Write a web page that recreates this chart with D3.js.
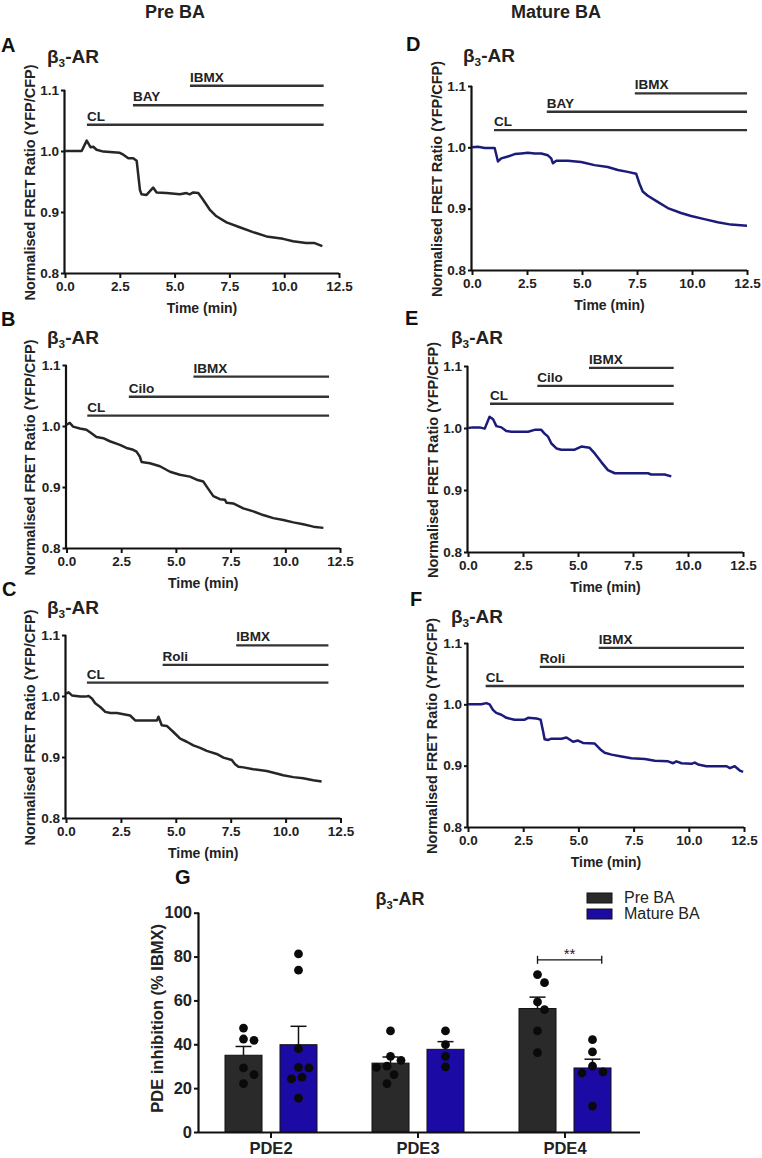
<!DOCTYPE html>
<html><head><meta charset="utf-8">
<script src="https://cdn.jsdelivr.net/npm/d3@7"></script>
<style>
body{margin:0;background:#fff}
svg{display:block}
text{font-family:"Liberation Sans",Arial,sans-serif}
</style>
</head><body>
<svg id="chart" width="762" height="1158"></svg>
<script>
// ---------------- DATA ----------------
const timeTicks = [0, 2.5, 5, 7.5, 10, 12.5];
const ratioTicks = [0.8, 0.9, 1.0, 1.1];
const columnHeaders = ["Pre BA", "Mature BA"];

const traceA = [[0,1.0],[0.76,1.0],[0.99,1.017],[1.17,1.006],[1.29,1.007],[1.44,1.002],[1.75,0.999],[2.5,0.997],[2.66,0.994],[2.89,0.988],[3.11,0.988],[3.27,0.984],[3.42,0.936],[3.49,0.929],[3.72,0.928],[4.02,0.940],[4.18,0.932],[4.63,0.931],[5.24,0.929],[5.54,0.931],[5.69,0.929],[5.85,0.932],[6.08,0.931],[6.3,0.920],[6.6,0.904],[6.91,0.893],[7.37,0.883],[7.97,0.875],[8.58,0.867],[9.19,0.860],[9.95,0.856],[10.4,0.852],[11.0,0.849],[11.39,0.849],[11.74,0.844]];
const traceB = [[0,1.002],[0.15,1.005],[0.3,0.999],[0.61,0.996],[0.91,0.994],[1.14,0.988],[1.37,0.982],[1.68,0.980],[1.98,0.975],[2.44,0.969],[2.74,0.964],[3.05,0.961],[3.2,0.958],[3.35,0.950],[3.43,0.941],[3.81,0.939],[4.27,0.934],[4.73,0.925],[5.18,0.920],[5.64,0.917],[5.95,0.912],[6.25,0.909],[6.4,0.901],[6.71,0.885],[7.01,0.880],[7.24,0.879],[7.32,0.874],[7.62,0.873],[8.08,0.865],[8.54,0.860],[8.99,0.854],[9.45,0.849],[9.91,0.846],[10.37,0.842],[10.82,0.839],[11.28,0.835],[11.74,0.833]];
const traceC = [[0,1.004],[0.12,1.006],[0.27,1.001],[0.65,0.999],[0.88,0.999],[1.03,1.0],[1.18,0.996],[1.33,0.988],[1.56,0.982],[1.79,0.974],[2.02,0.972],[2.32,0.972],[2.62,0.970],[2.92,0.968],[3.15,0.960],[3.53,0.960],[4.14,0.960],[4.21,0.966],[4.36,0.952],[4.59,0.951],[4.89,0.941],[5.2,0.930],[5.5,0.925],[5.8,0.919],[6.11,0.915],[6.41,0.910],[6.86,0.905],[7.17,0.899],[7.55,0.895],[7.7,0.888],[7.85,0.884],[8.08,0.883],[8.53,0.880],[9.14,0.877],[9.59,0.873],[9.89,0.870],[10.35,0.867],[10.8,0.865],[11.26,0.862],[11.64,0.860]];
const traceD = [[0,1.0],[0.27,1.001],[0.58,0.999],[1.03,0.999],[1.18,0.977],[1.33,0.982],[1.63,0.985],[1.94,0.989],[2.24,0.990],[2.54,0.991],[2.85,0.990],[3.15,0.990],[3.45,0.987],[3.6,0.982],[3.68,0.974],[3.83,0.978],[4.36,0.978],[4.96,0.976],[5.57,0.971],[6.17,0.968],[6.63,0.963],[7.08,0.960],[7.46,0.957],[7.61,0.941],[7.76,0.928],[7.99,0.921],[8.44,0.911],[8.9,0.901],[9.5,0.893],[9.96,0.888],[10.56,0.883],[11.17,0.878],[11.77,0.874],[12.5,0.872]];
const traceE = [[0,1.0],[0.23,1.001],[0.53,1.001],[0.76,0.999],[0.98,1.018],[1.14,1.014],[1.29,1.003],[1.52,1.001],[1.74,0.995],[1.97,0.994],[2.73,0.994],[3.03,0.997],[3.33,0.997],[3.48,0.991],[3.64,0.986],[3.79,0.975],[4.02,0.967],[4.24,0.965],[4.85,0.965],[5.15,0.970],[5.53,0.968],[5.76,0.959],[6.06,0.945],[6.36,0.932],[6.67,0.927],[6.97,0.927],[8.18,0.927],[8.33,0.925],[8.94,0.925],[9.24,0.922]];
const traceF = [[0,1.0],[0.6,1.0],[0.83,1.002],[0.98,1.0],[1.13,0.991],[1.28,0.986],[1.51,0.983],[1.74,0.978],[2.11,0.975],[2.57,0.975],[2.72,0.978],[3.1,0.977],[3.29,0.975],[3.4,0.956],[3.47,0.943],[3.63,0.942],[3.78,0.944],[4.23,0.944],[4.46,0.946],[4.76,0.939],[4.98,0.941],[5.21,0.937],[5.74,0.936],[6.04,0.925],[6.19,0.921],[6.5,0.918],[6.95,0.915],[7.4,0.912],[8.01,0.911],[8.46,0.908],[9.06,0.907],[9.29,0.904],[9.44,0.907],[9.67,0.904],[10.12,0.903],[10.27,0.905],[10.42,0.902],[10.8,0.899],[11.71,0.899],[11.86,0.896],[12.08,0.899],[12.31,0.892],[12.46,0.890]];

// drug application bars (name, start time, end time, level in ratio units)
const drugsA = ["CL","BAY","IBMX"];  const drugStartA = [1.0,3.1,5.7];   const drugEndA = 11.8;  const drugLevelA = [1.043,1.075,1.107];
const drugsB = ["CL","Cilo","IBMX"]; const drugStartB = [0.95,2.85,5.8]; const drugEndB = 12.0;  const drugLevelB = [1.017,1.048,1.081];
const drugsC = ["CL","Roli","IBMX"]; const drugStartC = [0.95,4.4,7.75]; const drugEndC = 11.95; const drugLevelC = [1.022,1.051,1.083];
const drugsD = ["CL","BAY","IBMX"];  const drugStartD = [1.0,3.4,7.4];   const drugEndD = 12.5;  const drugLevelD = [1.028,1.058,1.088];
const drugsE = ["CL","Cilo","IBMX"]; const drugStartE = [1.0,3.15,5.5];  const drugEndE = 9.35;  const drugLevelE = [1.039,1.068,1.097];
const drugsF = ["CL","Roli","IBMX"]; const drugStartF = [0.8,3.25,5.92]; const drugEndF = 12.5;  const drugLevelF = [1.030,1.061,1.092];

// bar chart G
const pdeCategories = ["PDE2","PDE3","PDE4"];
const groups = ["Pre BA","Mature BA"];
const meanPre = [35.0, 31.4, 56.3];
const meanMature = [39.8, 37.7, 29.2];
const semPre = [4.0, 2.8, 5.2];
const semMature = [8.4, 3.5, 4.0];
const pointsPre = [
  [47.4,41.8,42.4,29.2,26.2,22.1],
  [46.1,34.5,32.7,30.0,29.5,26.2,22.1],
  [71.8,68.1,59.3,55.8,46.1,36.2]
];
const pointsMature = [
  [81.2,73.8,38.0,29.5,29.2,25.0,24.2,15.4],
  [46.1,39.8,34.5,29.7],
  [42.1,36.5,30.0,27.4,26.9,11.8]
];
const pdeTicks = [0,20,40,60,80,100];
const sigLabel = "**";

// ---------------- LAYOUT ----------------
const FONT = '"Liberation Sans",Arial,sans-serif';
const svg = d3.select("#chart");
const lineColors = {pre:"#262626", mature:"#1b1b7a"};

const panels = [
  {letter:"A", trace:traceA, col:"pre", drugs:drugsA, start:drugStartA, end:drugEndA, level:drugLevelA, x0:65,  x1:339, yT:90,  yB:273, lx:1,   ly:52,  tx:47,  ty:63,  yl:30},
  {letter:"B", trace:traceB, col:"pre", drugs:drugsB, start:drugStartB, end:drugEndB, level:drugLevelB, x0:66.5,x1:340, yT:365, yB:548, lx:1,   ly:326, tx:47,  ty:344, yl:30},
  {letter:"C", trace:traceC, col:"pre", drugs:drugsC, start:drugStartC, end:drugEndC, level:drugLevelC, x0:66,  x1:340.5,yT:635,yB:818, lx:2,   ly:596, tx:47,  ty:614, yl:30},
  {letter:"D", trace:traceD, col:"mature", drugs:drugsD, start:drugStartD, end:drugEndD, level:drugLevelD, x0:472, x1:747, yT:86,  yB:270, lx:406, ly:51,  tx:463, ty:62,  yl:437},
  {letter:"E", trace:traceE, col:"mature", drugs:drugsE, start:drugStartE, end:drugEndE, level:drugLevelE, x0:468, x1:743, yT:366, yB:552, lx:405, ly:325, tx:451, ty:344, yl:433},
  {letter:"F", trace:traceF, col:"mature", drugs:drugsF, start:drugStartF, end:drugEndF, level:drugLevelF, x0:468, x1:744, yT:643, yB:827, lx:410, ly:606, tx:451, ty:623, yl:432}
];

// column headers
svg.append("text").attr("x",175).attr("y",18).attr("text-anchor","middle")
  .attr("font-size",18).attr("font-weight","bold").attr("fill","#222").text(columnHeaders[0]);
svg.append("text").attr("x",556).attr("y",18).attr("text-anchor","middle")
  .attr("font-size",18).attr("font-weight","bold").attr("fill","#222").text(columnHeaders[1]);

function titleBeta(g, x, y, size, anchor) {
  const t = g.append("text").attr("x",x).attr("y",y).attr("font-size",size)
    .attr("font-weight","bold").attr("fill","#222").attr("text-anchor",anchor||"start");
  t.append("tspan").text("β");
  t.append("tspan").attr("font-size",size*0.62).attr("dy",size*0.22).text("3");
  t.append("tspan").attr("dy",-size*0.22).text("-AR");
  return t;
}

panels.forEach(p => {
  const g = svg.append("g");
  const x = d3.scaleLinear().domain([0,12.5]).range([p.x0,p.x1]);
  const y = d3.scaleLinear().domain([0.8,1.1]).range([p.yB,p.yT]);

  // axes
  const xa = g.append("g").attr("transform",`translate(0,${p.yB})`)
    .call(d3.axisBottom(x).tickValues(timeTicks).tickFormat(d3.format(".1f")).tickSize(5).tickPadding(3));
  const ya = g.append("g").attr("transform",`translate(${p.x0},0)`)
    .call(d3.axisLeft(y).tickValues(ratioTicks).tickFormat(d3.format(".1f")).tickSize(4).tickPadding(2));
  [xa,ya].forEach(a=>{
    a.select(".domain").attr("stroke","#111").attr("stroke-width",2.2);
    a.selectAll(".tick line").attr("stroke","#111").attr("stroke-width",2);
    a.selectAll(".tick text").attr("font-family",FONT).attr("font-size",13.5).attr("font-weight","bold").attr("fill","#222");
  });
  ya.select(".domain").attr("d",`M-0.5,${p.yB}V${p.yT}`);
  xa.select(".domain").attr("d",`M${p.x0},0.5H${p.x1}`);

  // axis labels
  g.append("text").attr("x",(p.x0+p.x1)/2).attr("y",p.yB+40).attr("text-anchor","middle")
    .attr("font-size",14).attr("font-weight","bold").attr("fill","#222").text("Time (min)");
  g.append("text").attr("transform",`translate(${p.yl},${(p.yT+p.yB)/2 + 1}) rotate(-90)`)
    .attr("text-anchor","middle").attr("dy","0.35em")
    .attr("font-size",14.5).attr("font-weight","bold").attr("fill","#222").text("Normalised FRET Ratio (YFP/CFP)");

  // letter + title
  g.append("text").attr("x",p.lx).attr("y",p.ly).attr("font-size",20).attr("font-weight","bold").attr("fill","#111").text(p.letter);
  titleBeta(g, p.tx, p.ty, 19);

  // drug bars
  p.drugs.forEach((d,i)=>{
    g.append("line").attr("x1",x(p.start[i])).attr("x2",x(p.end))
      .attr("y1",y(p.level[i])).attr("y2",y(p.level[i]))
      .attr("stroke","#333").attr("stroke-width",2.4);
    g.append("text").attr("x",x(p.start[i])).attr("y",y(p.level[i])-4)
      .attr("font-size",13.5).attr("font-weight","bold").attr("fill","#222").text(d);
  });

  // trace
  g.append("path").datum(p.trace)
    .attr("d", d3.line().x(d=>x(d[0])).y(d=>y(d[1])))
    .attr("fill","none").attr("stroke",lineColors[p.col]).attr("stroke-width",2.5)
    .attr("stroke-linejoin","round");
});

// ---------------- PANEL G ----------------
const G = {x0:199, x1:640, yT:912.7, yB:1132};
const gg = svg.append("g");
const xb = d3.scaleBand().domain(pdeCategories).range([G.x0-1.5, G.x0-1.5+147*3]);
const xs = d3.scaleBand().domain(groups).range([27.5,119.5]).paddingInner(0.327);
const yb = d3.scaleLinear().domain([0,100]).range([G.yB,G.yT]);
const barColors = {"Pre BA":"#2a2a2a","Mature BA":"#1c0aa4"};

const barData = [];
pdeCategories.forEach((c,i)=>{
  barData.push({cat:c, grp:groups[0], mean:meanPre[i], sem:semPre[i], pts:pointsPre[i]});
  barData.push({cat:c, grp:groups[1], mean:meanMature[i], sem:semMature[i], pts:pointsMature[i]});
});

barData.forEach(b=>{
  const bx = xb(b.cat)+xs(b.grp), bw = xs.bandwidth(), cx = bx+bw/2;
  gg.append("rect").attr("x",bx).attr("y",yb(b.mean)).attr("width",bw).attr("height",yb(0)-yb(b.mean))
    .attr("fill",barColors[b.grp]).attr("stroke","#111").attr("stroke-width",1);
  // error bar
  gg.append("line").attr("x1",cx).attr("x2",cx).attr("y1",yb(b.mean)).attr("y2",yb(b.mean+b.sem))
    .attr("stroke","#111").attr("stroke-width",1.5);
  gg.append("line").attr("x1",cx-8).attr("x2",cx+8).attr("y1",yb(b.mean+b.sem)).attr("y2",yb(b.mean+b.sem))
    .attr("stroke","#111").attr("stroke-width",1.5);
  // swarm dots
  const r = 4.4, placed = [];
  const order = b.pts.map((v,i)=>i).sort((a,c)=>b.pts[c]-b.pts[a]);
  order.forEach(i=>{
    const py = yb(b.pts[i]);
    let off = 0;
    for (let k=0;k<30;k++){
      const cand = k===0?0:(k%2? 1:-1)*Math.ceil(k/2)*3.5;
      const ok = placed.every(q=>Math.hypot(q[0]-(cx+cand), q[1]-py) >= 2*r+1.5);
      if (ok){off=cand;break;}
    }
    placed.push([cx+off,py]);
  });
  placed.forEach(q=>gg.append("circle").attr("cx",q[0]).attr("cy",q[1]).attr("r",r).attr("fill","#0a0a0a"));
});

// axes G
const gxa = gg.append("g").attr("transform",`translate(0,${G.yB})`)
  .call(d3.axisBottom(xb).tickSize(6).tickPadding(4));
gxa.select(".domain").attr("d",`M${G.x0},0.5H${G.x1}`).attr("stroke","#111").attr("stroke-width",2.2);
gxa.selectAll(".tick line").attr("stroke","#111").attr("stroke-width",2);
gxa.selectAll(".tick text").attr("font-family",FONT).attr("font-size",16.5).attr("font-weight","bold").attr("fill","#222");
const gya = gg.append("g").attr("transform",`translate(${G.x0},0)`)
  .call(d3.axisLeft(yb).tickValues(pdeTicks).tickSize(5).tickPadding(2));
gya.select(".domain").attr("d",`M-0.5,${G.yB}V${G.yT}`).attr("stroke","#111").attr("stroke-width",2.2);
gya.selectAll(".tick line").attr("stroke","#111").attr("stroke-width",2);
gya.selectAll(".tick text").attr("font-family",FONT).attr("font-size",16.5).attr("font-weight","bold").attr("fill","#222");

gg.append("text").attr("transform",`translate(157,${(G.yT+G.yB)/2 - 4}) rotate(-90)`)
  .attr("text-anchor","middle").attr("dy","0.35em")
  .attr("font-size",16.5).attr("font-weight","bold").attr("fill","#222").text("PDE inhibition (% IBMX)");
gg.append("text").attr("x",175).attr("y",884).attr("font-size",20).attr("font-weight","bold").attr("fill","#111").text("G");
titleBeta(gg, 400, 905, 18, "middle");

// significance bracket between PDE4 bars
const c4 = pdeCategories[2];
const bxL = xb(c4)+xs(groups[0])+xs.bandwidth()/2;
const bxR = xb(c4)+xs(groups[1])+xs.bandwidth()*0.75;
const by = yb(78.5);
gg.append("line").attr("x1",bxL).attr("x2",bxR).attr("y1",by).attr("y2",by).attr("stroke","#111").attr("stroke-width",1.3);
gg.append("line").attr("x1",bxL).attr("x2",bxL).attr("y1",by-4).attr("y2",by+4).attr("stroke","#111").attr("stroke-width",1.3);
gg.append("line").attr("x1",bxR).attr("x2",bxR).attr("y1",by-4).attr("y2",by+4).attr("stroke","#111").attr("stroke-width",1.3);
gg.append("text").attr("x",(bxL+bxR)/2).attr("y",by-1).attr("text-anchor","middle")
  .attr("font-size",15).attr("fill","#222").text(sigLabel);

// legend
groups.forEach((gname,i)=>{
  const ly = 893 + i*16;
  gg.append("rect").attr("x",587).attr("y",ly).attr("width",25).attr("height",10)
    .attr("fill",barColors[gname]).attr("stroke","#111").attr("stroke-width",1);
  gg.append("text").attr("x",624).attr("y",ly+10).attr("font-size",16).attr("fill","#222").text(gname);
});
</script>
</body></html>
